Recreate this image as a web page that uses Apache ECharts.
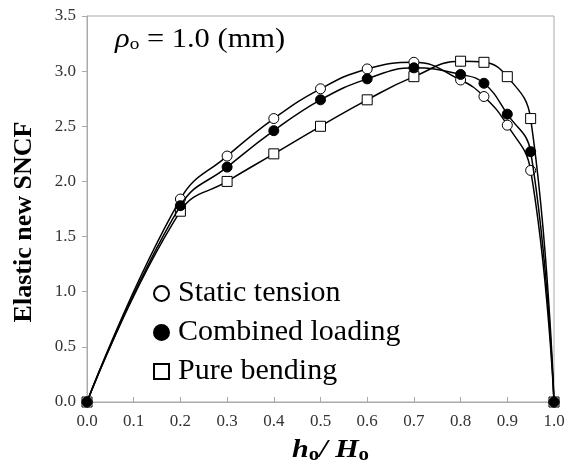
<!DOCTYPE html>
<html>
<head>
<meta charset="utf-8">
<script src="https://cdn.jsdelivr.net/npm/echarts@6/dist/echarts.min.js"></script>
<style>html,body{margin:0;padding:0;background:#fff}#c{width:570px;height:473px}</style>
</head>
<body>
<div id="c"></div>
<script>
var xValues = [0, 0.2, 0.3, 0.4, 0.5, 0.6, 0.7, 0.8, 0.85, 0.9, 0.95, 1.0];
var staticTension = [0, 1.84, 2.23, 2.57, 2.84, 3.02, 3.08, 2.92, 2.77, 2.51, 2.10, 0];
var combinedLoading = [0, 1.78, 2.13, 2.46, 2.74, 2.93, 3.03, 2.97, 2.89, 2.61, 2.27, 0];
var pureBending = [0, 1.73, 2.00, 2.25, 2.50, 2.74, 2.95, 3.09, 3.08, 2.95, 2.57, 0];
var seriesNames = ['Static tension', 'Combined loading', 'Pure bending'];

function pairs(ys) { return xValues.map(function (x, i) { return [x, ys[i]]; }); }
var FONT = '"Liberation Serif", "DejaVu Serif", serif';

var chart = echarts.init(document.getElementById('c'));
function mk(name, ys, symbol, fill, z) {
  return {
    name: name, type: 'line', data: pairs(ys), smooth: 0.45,
    symbol: symbol, symbolSize: 10, showAllSymbol: true, z: z,
    lineStyle: { color: '#000', width: 1.5 },
    itemStyle: { color: fill, borderColor: '#000', borderWidth: 1 },
    emphasis: { disabled: true }
  };
}
chart.setOption({
  animation: false,
  backgroundColor: '#fff',
  grid: { left: 87, right: 16, top: 16, bottom: 71, show: true, borderColor: '#aaa', borderWidth: 1 },
  xAxis: {
    type: 'value', min: 0, max: 1, interval: 0.1,
    axisLine: { lineStyle: { color: '#aaa' } },
    axisTick: { inside: true, length: 5, lineStyle: { color: '#aaa' } },
    splitLine: { show: false },
    axisLabel: { fontFamily: FONT, fontSize: 17, color: '#333', margin: 11, formatter: function (v) { return v.toFixed(1); } }
  },
  yAxis: {
    type: 'value', min: 0, max: 3.5, interval: 0.5,
    axisLine: { show: true, lineStyle: { color: '#aaa' } },
    axisTick: { show: true, inside: false, length: 5, lineStyle: { color: '#aaa' } },
    splitLine: { show: false },
    axisLabel: { fontFamily: FONT, fontSize: 17, color: '#333', margin: 11, formatter: function (v) { return v.toFixed(1); } }
  },
  legend: {
    orient: 'vertical', left: 148, top: 273, itemGap: 8, itemWidth: 15, itemHeight: 15, padding: 5,
    textStyle: { fontFamily: FONT, fontSize: 30, lineHeight: 31, color: '#000', padding: [0, 0, 0, 4] },
    data: [
      { name: seriesNames[0], icon: 'circle' },
      { name: seriesNames[1], icon: 'circle' },
      { name: seriesNames[2], icon: 'rect' }
    ]
  },
  series: [
    mk(seriesNames[0], staticTension, 'circle', '#fff', 2),
    mk(seriesNames[2], pureBending, 'rect', '#fff', 3),
    mk(seriesNames[1], combinedLoading, 'circle', '#000', 4)
  ],
  graphic: [
    {
      type: 'text', x: 115, y: 26, scaleX: 1.13,
      style: {
        text: '{r|ρ}{s|o}{n| = 1.0 (mm)}',
        rich: {
          r: { fontFamily: FONT, fontSize: 27, fontStyle: 'italic', fill: '#000' },
          s: { fontFamily: FONT, fontSize: 17, fill: '#000', padding: [10, 0, 0, 0] },
          n: { fontFamily: FONT, fontSize: 27, fill: '#000' }
        }
      }
    },
    {
      type: 'text', x: 24, y: 222, rotation: Math.PI / 2,
      style: {
        text: 'Elastic new SNCF', fontFamily: FONT, fontSize: 26, fontWeight: 'bold', fill: '#000',
        align: 'center', verticalAlign: 'middle'
      }
    },
    {
      type: 'text', x: 292, y: 436, scaleX: 1.16,
      style: {
        text: '{h|h}{s|o}{h|/ H}{s|o}',
        rich: {
          h: { fontFamily: FONT, fontSize: 26, fontStyle: 'italic', fontWeight: 'bold', fill: '#000' },
          s: { fontFamily: FONT, fontSize: 18, fontWeight: 'bold', fill: '#000', padding: [10, 0, 0, 0] }
        }
      }
    }
  ]
});
</script>
</body>
</html>
